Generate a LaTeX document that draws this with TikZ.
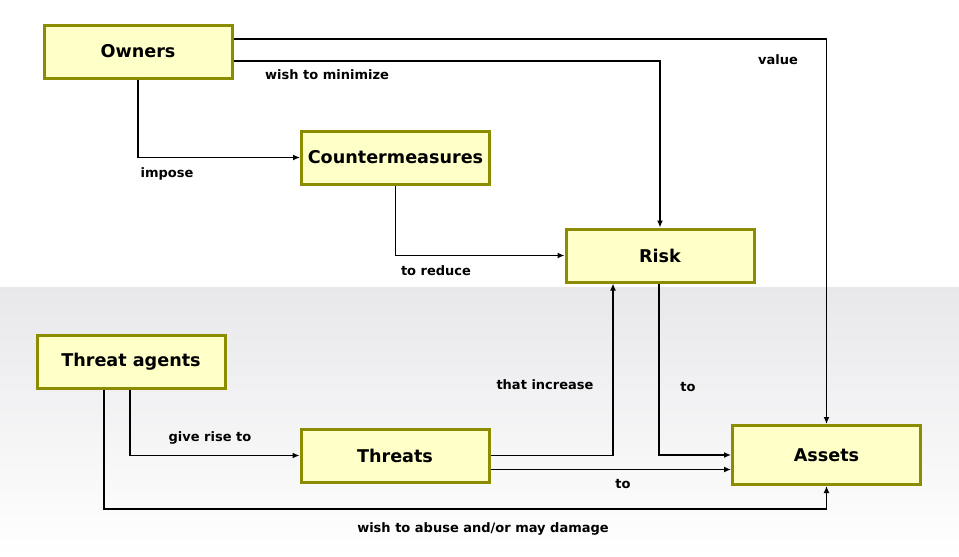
\documentclass[tikz,border=0pt]{standalone}
\usepackage{fontspec}
\setmainfont{DejaVu Sans}
\usetikzlibrary{arrows.meta}
\definecolor{boxfill}{HTML}{FFFFC8}
\definecolor{boxdraw}{HTML}{8C8C00}
\definecolor{bgtop}{HTML}{E8E8EB}
\tikzset{
  box/.style={draw=boxdraw, line width=3pt, fill=boxfill, minimum width=188pt, minimum height=53pt, inner sep=0pt, font=\fontsize{17.6}{20}\selectfont\bfseries},
  lbl/.style={font=\fontsize{13}{15}\selectfont\bfseries, inner sep=0pt},
  arr/.style={line width=1.4pt, -{Latex[length=7pt,width=6pt]}},
}
\begin{document}
\begin{tikzpicture}[x=1pt,y=-1pt]
\useasboundingbox (0,0) rectangle (959,557);
\fill[white] (0,0) rectangle (959,557);
\shade[top color=bgtop, bottom color=white] (0,287) rectangle (959,557);
\node[box] (owners) at (138,51.5) {Owners};
\node[box] (cm) at (395.5,157.5) {Countermeasures};
\node[box] (risk) at (660,255.5) {Risk};
\node[box] (ta) at (131,361.5) {Threat agents};
\node[box] (threats) at (395,455.5) {Threats};
\node[box, minimum height=59pt] (assets) at (826.5,455) {Assets};
\draw[arr] ([yshift=12.5pt]owners.east) -| (assets.north);
\draw[arr] ([yshift=-9.5pt]owners.east) -| (risk.north);
\draw[arr] (owners.south) |- (cm.west);
\draw[arr] (cm.south) |- (risk.west);
\draw[arr] ([xshift=-1pt]ta.south) |- (threats.west);
\draw[arr] ([xshift=-27pt]ta.south) |- ([yshift=-23pt]assets.south) -- (assets.south);
\draw[arr] (threats.east) -| ([xshift=-47pt]risk.south);
\draw[arr] ([yshift=-14pt]threats.east) -- ([yshift=-14.5pt]assets.west);
\draw[arr] ([xshift=-1pt]risk.south) |- (assets.west);
\node[lbl] (l1) at (778,60) {value};
\node[lbl] (l2) at (327,75) {wish to minimize};
\node[lbl] (l3) at (167,174) {impose};
\node[lbl] (l4) at (436,271) {to reduce};
\node[lbl] (l5) at (210,438) {give rise to};
\node[lbl] (l6) at (545,385) {that increase};
\node[lbl] (l7) at (688,387) {to};
\node[lbl] (l8) at (623,484) {to};
\node[lbl] (l9) at (483,529) {wish to abuse and/or may damage};
\end{tikzpicture}
\end{document}
